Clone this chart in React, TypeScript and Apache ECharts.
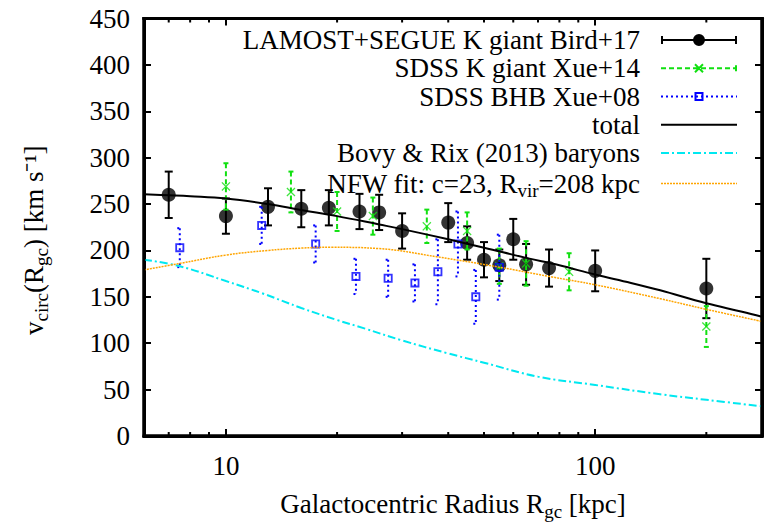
import React, { useEffect, useRef } from 'react';
import * as echarts from 'echarts';

const FONT = 'Liberation Serif';

// LAMOST+SEGUE K giant Bird+17
const birdR = [7, 10, 13, 16, 19, 23, 26, 30, 40, 45, 50, 55, 60, 65, 75, 100, 200];
const birdV = [260, 237, 247, 245, 246, 242, 241, 221, 230, 208, 190, 184, 212, 185, 181, 178, 159];
const birdErr = [25, 19, 20, 20, 19, 19, 19, 19, 21, 18, 19, 17, 22, 22, 20, 22, 32];

// SDSS K giant Xue+14
const xue14R = [10, 15, 20, 25, 35, 45, 55, 65, 85, 200];
const xue14V = [269, 263, 242, 237, 226, 221, 183, 186, 177, 118];
const xue14Err = [25, 22, 21, 20, 18, 20, 19, 24, 20, 22];

// SDSS BHB Xue+08
const xue08R = [7.5, 12.5, 17.5, 22.5, 27.5, 32.5, 37.5, 42.5, 47.5, 55];
const xue08V = [203, 227, 207, 172, 170, 165, 177, 207, 150, 182];
const xue08Err = [21, 20, 20, 19, 20, 20, 35, 35, 29, 35];

// model curves
const totalR = [6, 7, 8, 10, 13, 16, 20, 26, 30, 40, 50, 65, 80, 100, 125, 150, 200, 250, 283];
const totalV = [260.5, 259.5, 258.5, 256, 250, 243.6, 237, 228, 223, 212, 203, 192, 184, 174, 165, 157, 143, 134, 128.5];
const baryR = [6, 7.5, 10, 12.5, 16, 20, 23.7, 30, 40, 50, 70, 100, 150, 200, 283];
const baryV = [190, 183, 167, 154, 138, 125, 116, 103, 89, 79, 64, 55, 45, 39, 32];
const nfwR = [6, 7.5, 10, 13, 16, 19.3, 26, 37.5, 55, 75, 100, 150, 200, 283];
const nfwV = [179, 186, 195, 200, 202.5, 203.4, 202, 193, 182, 172, 163, 148, 136.5, 123.5];

// minor tick positions on the log axis
const minorTicks = [7, 8, 9, 20, 30, 40, 50, 60, 70, 80, 90, 200];

const X_MIN = 6;
const X_MAX = 283;

const NAMES = [
  'LAMOST+SEGUE K giant Bird+17',
  'SDSS K giant Xue+14',
  'SDSS BHB Xue+08',
  'total',
  'Bovy & Rix (2013) baryons',
  'NFW fit: c=23, R_vir=208 kpc',
];

const C_BIRD = '#000000';
const C_X14 = '#11e011';
const C_X08 = '#0000ff';
const C_TOT = '#000000';
const C_BAR = '#00e8f0';
const C_NFW = '#ffa500';

const W = 92;
const H = 14;
const X0 = 16;

const rect = (x: number, y: number, w: number, h: number) =>
  `M${x} ${y}h${w}v${h}h${-w}Z`;
const corners = `M0 0L0.01 0L0 0.01Z M${W} ${H}L${W - 0.01} ${H}L${W} ${H - 0.01}Z`;

function dashes(on: number, off: number, y: number, h: number) {
  let p = '';
  for (let x = X0; x < W; x += on + off) p += rect(x, y, Math.min(on, W - x), h);
  return p;
}
function dashDot(y: number, h: number) {
  let p = '';
  let x = X0;
  while (x < W) {
    p += rect(x, y, Math.min(8, W - x), h);
    x += 11;
    if (x < W) p += rect(x, y, Math.min(2, W - x), h);
    x += 5;
  }
  return p;
}
const cx = (X0 + W) / 2;
const iconBird =
  'path://' + corners + rect(X0, 6, W - X0, 2) + rect(X0, 3, 2, 8) + rect(W - 2, 3, 2, 8) +
  `M${cx - 6} 7a6 6 0 1 1 12 0a6 6 0 1 1 -12 0Z`;
const iconX14 =
  'path://' + corners + dashes(5, 3, 6, 2) + rect(W - 2, 4, 2, 6) +
  `M${cx - 3.3} 2.3L${cx + 4.7} 10.3L${cx + 3.3} 11.7L${cx - 4.7} 3.7Z` +
  `M${cx + 3.3} 2.3L${cx + 4.7} 3.7L${cx - 3.3} 11.7L${cx - 4.7} 10.3Z`;
const iconX08 =
  'path://' + corners + dashes(2, 3, 6, 2) +
  `M${cx - 4.5} 2.5h9v9h-9Z M${cx - 2.5} 4.5v5h5v-5Z`;
const iconTot = 'path://' + corners + rect(X0, 6, W - X0, 2);
const iconBar = 'path://' + corners + dashDot(6, 2);
const iconNfw = 'path://' + corners + dashes(2, 1, 6.25, 1.5);

const sub = () => ({ fontFamily: FONT, fontSize: 19, color: '#000', lineHeight: 12, padding: [14, 0, 0, 0] });

function errRender(color: string, dash: number[] | null, capHalf: number, lw: number) {
  return (params: any, api: any) => {
    const x = api.value(0);
    const y = api.value(1);
    const e = api.value(2);
    const top = api.coord([x, y + e]);
    const bot = api.coord([x, y - e]);
    const style: any = { stroke: color, lineWidth: lw, fill: 'none' };
    if (dash) style.lineDash = dash;
    return {
      type: 'group',
      children: [
        { type: 'line', shape: { x1: top[0], y1: top[1], x2: bot[0], y2: bot[1] }, style },
        { type: 'line', shape: { x1: top[0] - capHalf, y1: top[1], x2: top[0] + capHalf, y2: top[1] }, style },
        { type: 'line', shape: { x1: bot[0] - capHalf, y1: bot[1], x2: bot[0] + capHalf, y2: bot[1] }, style },
      ],
    };
  };
}

const zip = (a: number[], b: number[]) => a.map((v, i) => [v, b[i]]);
const zip3 = (a: number[], b: number[], c: number[]) => a.map((v, i) => [v, b[i], c[i]]);

const G_LEFT = 144;
const G_RIGHT = 6;
const G_TOP = 18.5;
const G_BOTTOM = 89;

export default function App() {
  const ref = useRef<HTMLDivElement>(null);
  useEffect(() => {
    if (!ref.current) return;
    const chart = echarts.init(ref.current, null, { renderer: 'svg' });
    const lbl = () => ({ fontFamily: FONT, fontSize: 27, color: '#000' });
    const frame = () => ({ show: true, onZero: false, lineStyle: { color: '#000', width: 3 } });
    const tick = () => ({ show: true, inside: true, length: 7, lineStyle: { color: '#000', width: 2 } });
    const gw = 768 - G_LEFT - G_RIGHT;
    const gh = 525 - G_TOP - G_BOTTOM;
    const option: any = {
      animation: false,
      grid: {
        left: G_LEFT, right: G_RIGHT, top: G_TOP, bottom: G_BOTTOM,
        show: true, borderWidth: 3, borderColor: '#000',
        outerBoundsMode: 'none',
      },
      graphic: [
        { type: 'rect', silent: true, z: 100, shape: { x: G_LEFT - 1.5, y: G_TOP - 1.5, width: gw + 3, height: 3 }, style: { fill: '#000' } },
        { type: 'rect', silent: true, z: 100, shape: { x: G_LEFT + gw - 1.5, y: G_TOP - 1.5, width: 3, height: gh + 3 }, style: { fill: '#000' } },
        { type: 'rect', silent: true, z: 100, shape: { x: G_LEFT - 1.5, y: G_TOP + gh - 1.5, width: gw + 3, height: 3 }, style: { fill: '#000' } },
        { type: 'rect', silent: true, z: 100, shape: { x: G_LEFT - 1.5, y: G_TOP - 1.5, width: 3, height: gh + 3 }, style: { fill: '#000' } },
      ],
      xAxis: [
        {
          type: 'log',
          min: X_MIN,
          max: X_MAX,
          position: 'bottom',
          axisLine: frame(),
          axisTick: tick(),
          splitLine: { show: false },
          axisLabel: {
            ...lbl(),
            margin: 16,
            formatter: (v: number) => {
              const l = Math.log10(v);
              return Math.abs(l - Math.round(l)) < 1e-6 && v >= 10 && v <= 100 ? String(Math.round(v)) : '';
            },
          },
          name: 'Galactocentric Radius R{sub|gc} [kpc]',
          nameLocation: 'middle',
          nameGap: 54,
          nameTextStyle: { ...lbl(), lineHeight: 28, rich: { sub: sub() } },
        },
        {
          type: 'log',
          min: X_MIN,
          max: X_MAX,
          position: 'top',
          axisLine: frame(),
          axisTick: tick(),
          axisLabel: { show: false },
          splitLine: { show: false },
        },
      ],
      yAxis: [
        {
          type: 'value',
          min: 0,
          max: 450,
          interval: 50,
          position: 'left',
          axisLine: frame(),
          axisTick: tick(),
          splitLine: { show: false },
          axisLabel: { ...lbl(), margin: 14 },
          name: 'v{sub|circ}(R{sub|gc}) [km s\u207B\u00B9]',
          nameLocation: 'middle',
          nameRotate: 90,
          nameGap: 96,
          nameTextStyle: { ...lbl(), lineHeight: 28, padding: [0, 26, 0, 0], rich: { sub: sub() } },
        },
        {
          type: 'value',
          min: 0,
          max: 450,
          interval: 50,
          position: 'right',
          axisLine: frame(),
          axisTick: tick(),
          axisLabel: { show: false },
          splitLine: { show: false },
        },
      ],
      legend: {
        show: true,
        selectedMode: false,
        orient: 'vertical',
        align: 'right',
        right: 31,
        top: 26,
        padding: 0,
        itemGap: 0,
        itemWidth: W,
        itemHeight: H,
        itemStyle: { borderWidth: 0 },
        textStyle: { ...lbl(), lineHeight: 28.2, rich: { sub: sub() } },
        formatter: (name: string) =>
          name === NAMES[5] ? 'NFW fit: c=23, R{sub|vir}=208 kpc' : name,
        data: [
          { name: NAMES[0], icon: iconBird, itemStyle: { color: C_BIRD, borderWidth: 0 } },
          { name: NAMES[1], icon: iconX14, itemStyle: { color: C_X14, borderWidth: 0 } },
          { name: NAMES[2], icon: iconX08, itemStyle: { color: C_X08, borderWidth: 0 } },
          { name: NAMES[3], icon: iconTot, itemStyle: { color: C_TOT, borderWidth: 0 } },
          { name: NAMES[4], icon: iconBar, itemStyle: { color: C_BAR, borderWidth: 0 } },
          { name: NAMES[5], icon: iconNfw, itemStyle: { color: C_NFW, borderWidth: 0 } },
        ],
      },
      series: [
        {
          name: NAMES[0],
          type: 'custom',
          renderItem: errRender(C_BIRD, null, 4, 2),
          encode: { x: 0, y: 1 },
          data: zip3(birdR, birdV, birdErr),
          z: 2,
        },
        {
          name: NAMES[0],
          type: 'scatter',
          symbol: 'circle',
          symbolSize: 14,
          itemStyle: { color: C_BIRD },
          data: zip(birdR, birdV),
          z: 3,
        },
        {
          name: NAMES[1],
          type: 'custom',
          renderItem: errRender(C_X14, [5, 3], 2.5, 2),
          encode: { x: 0, y: 1 },
          data: zip3(xue14R, xue14V, xue14Err),
          z: 4,
        },
        {
          name: NAMES[1],
          type: 'scatter',
          symbol: 'path://M1 0L5 4L9 0L10 1L6 5L10 9L9 10L5 6L1 10L0 9L4 5L0 1Z',
          symbolSize: 9,
          itemStyle: { color: C_X14 },
          data: zip(xue14R, xue14V),
          z: 5,
        },
        {
          name: NAMES[2],
          type: 'custom',
          renderItem: errRender(C_X08, [2, 3], 2.5, 2),
          encode: { x: 0, y: 1 },
          data: zip3(xue08R, xue08V, xue08Err),
          z: 6,
        },
        {
          name: NAMES[2],
          type: 'scatter',
          symbol: 'path://M0 0H10V10H0Z M2 2V8H8V2Z',
          symbolSize: 9,
          itemStyle: { color: C_X08 },
          data: zip(xue08R, xue08V),
          z: 7,
        },
        {
          name: NAMES[3],
          type: 'line',
          showSymbol: false,
          symbol: 'none',
          smooth: 0.4,
          lineStyle: { color: C_TOT, width: 2 },
          data: zip(totalR, totalV),
          z: 8,
        },
        {
          name: NAMES[4],
          type: 'line',
          showSymbol: false,
          symbol: 'none',
          smooth: 0.4,
          lineStyle: { color: C_BAR, width: 2, type: [8, 3, 2, 3] },
          data: zip(baryR, baryV),
          z: 8,
        },
        {
          name: NAMES[5],
          type: 'line',
          showSymbol: false,
          symbol: 'none',
          smooth: 0.4,
          lineStyle: { color: C_NFW, width: 1.5, type: [2, 1] },
          data: zip(nfwR, nfwV),
          z: 8,
        },
        {
          name: 'minor ticks',
          type: 'custom',
          silent: true,
          encode: { x: 0, y: 1 },
          data: minorTicks.map((v) => [v, 0]),
          renderItem: (params: any, api: any) => {
            const x = api.value(0);
            const b = api.coord([x, 0]);
            const t = api.coord([x, 450]);
            const style = { stroke: '#000', lineWidth: 2, fill: 'none' };
            return {
              type: 'group',
              children: [
                { type: 'line', shape: { x1: b[0], y1: b[1], x2: b[0], y2: b[1] - 4 }, style },
                { type: 'line', shape: { x1: t[0], y1: t[1], x2: t[0], y2: t[1] + 4 }, style },
              ],
            };
          },
          z: 10,
        },
      ],
    };
    chart.setOption(option);
    return () => chart.dispose();
  }, []);
  return (
    <div
      ref={ref}
      style={{ position: 'absolute', left: 0, top: 0, width: 768, height: 525 }}
    />
  );
}
